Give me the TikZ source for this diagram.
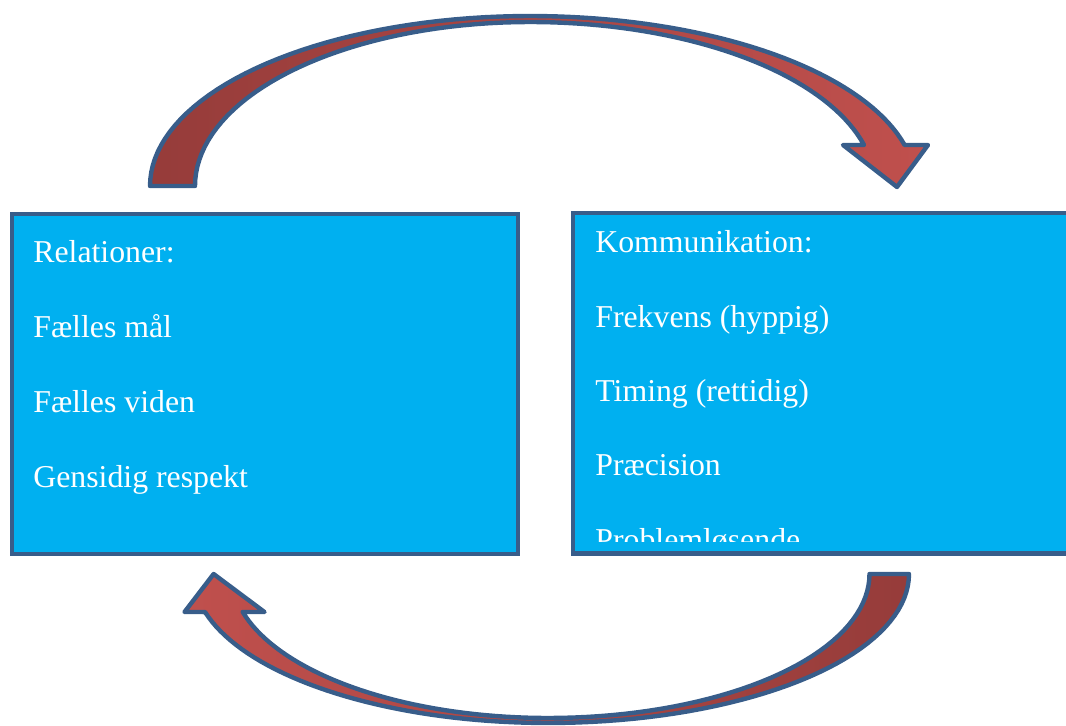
\documentclass[tikz,border=0pt]{standalone}
\usepackage{fontspec}
\setmainfont{Liberation Serif}
\usetikzlibrary{positioning}
\definecolor{boxcyan}{RGB}{0,176,240}
\definecolor{edgeblue}{RGB}{56,93,138}
\definecolor{arrowdark}{RGB}{150,60,58}
\definecolor{arrowlight}{RGB}{192,80,77}
\tikzset{
  box/.style       = {rectangle, draw=edgeblue, fill=boxcyan, line width=2.7pt, anchor=north west, inner sep=0pt, outer sep=0pt},
  itemtext/.style  = {white, anchor=base west, inner sep=0pt, font=\fontsize{18.1}{20}\selectfont},
  bendarrow/.style = {draw=edgeblue, line width=2.5pt, line join=round},
}

\begin{document}
\begin{tikzpicture}[x=0.02cm, y=-0.02cm]
\useasboundingbox (0,0) rectangle (1066,726);
\clip (0,0) rectangle (1066,726);

% ===== boksene =====
\node[box, minimum width=10.12cm, minimum height=6.8cm] (rel) at (12,214) {};
\node[box, minimum width=10.5cm, minimum height=6.81cm] (kom) at (573,213) {};

% venstre tekst
\node[itemtext] (rel0) at (33,263) {Relationer:};
\node[itemtext] (rel1) at (33,337.7) {Fælles mål};
\node[itemtext] (rel2) at (33,412.3) {Fælles viden};
\node[itemtext] (rel3) at (33,487) {Gensidig respekt};

% højre tekst (sidste linje skæres af)
\begin{scope}
  \clip (573,213) rectangle (1066,541);
  \node[itemtext] (kom0) at (595,253) {Kommunikation:};
  \node[itemtext] (kom1) at (595,327.3) {Frekvens (hyppig)};
  \node[itemtext] (kom2) at (595,401.6) {Timing (rettidig)};
  \node[itemtext] (kom3) at (595,475.9) {Præcision};
  \node[itemtext] (kom4) at (595,550.2) {Problemløsende};
\end{scope}

% ===== øverste buepil =====
\path[bendarrow, left color=arrowdark, right color=arrowlight]
  (150,186)
  -- plot[domain=180:90, samples=40] ({530+380*cos(\x)},{186-170*sin(\x)})
  -- plot[domain=90:13.95, samples=40] ({530+386*cos(\x)},{186-170*sin(\x)})
  -- (928,145) -- (897,187) -- (843,145) -- (864,145)
  -- plot[domain=14.48:90, samples=40] ({530+345*cos(\x)},{186-164*sin(\x)})
  -- plot[domain=90:180, samples=40] ({530+335*cos(\x)},{186-164*sin(\x)})
  -- cycle;

% ===== nederste buepil =====
\path[bendarrow, left color=arrowlight, right color=arrowdark]
  (909,574)
  -- plot[domain=0:90, samples=40] ({548+361*cos(\x)},{574+149*sin(\x)})
  -- plot[domain=90:165.2, samples=40] ({548+354.7*cos(\x)},{574+149*sin(\x)})
  -- (184.5,612) -- (213.6,574) -- (264.5,612) -- (242.7,612)
  -- plot[domain=164.7:90, samples=40] ({548+316.5*cos(\x)},{574+144*sin(\x)})
  -- plot[domain=90:0, samples=40] ({548+321.5*cos(\x)},{574+144*sin(\x)})
  -- cycle;

\end{tikzpicture}
\end{document}
